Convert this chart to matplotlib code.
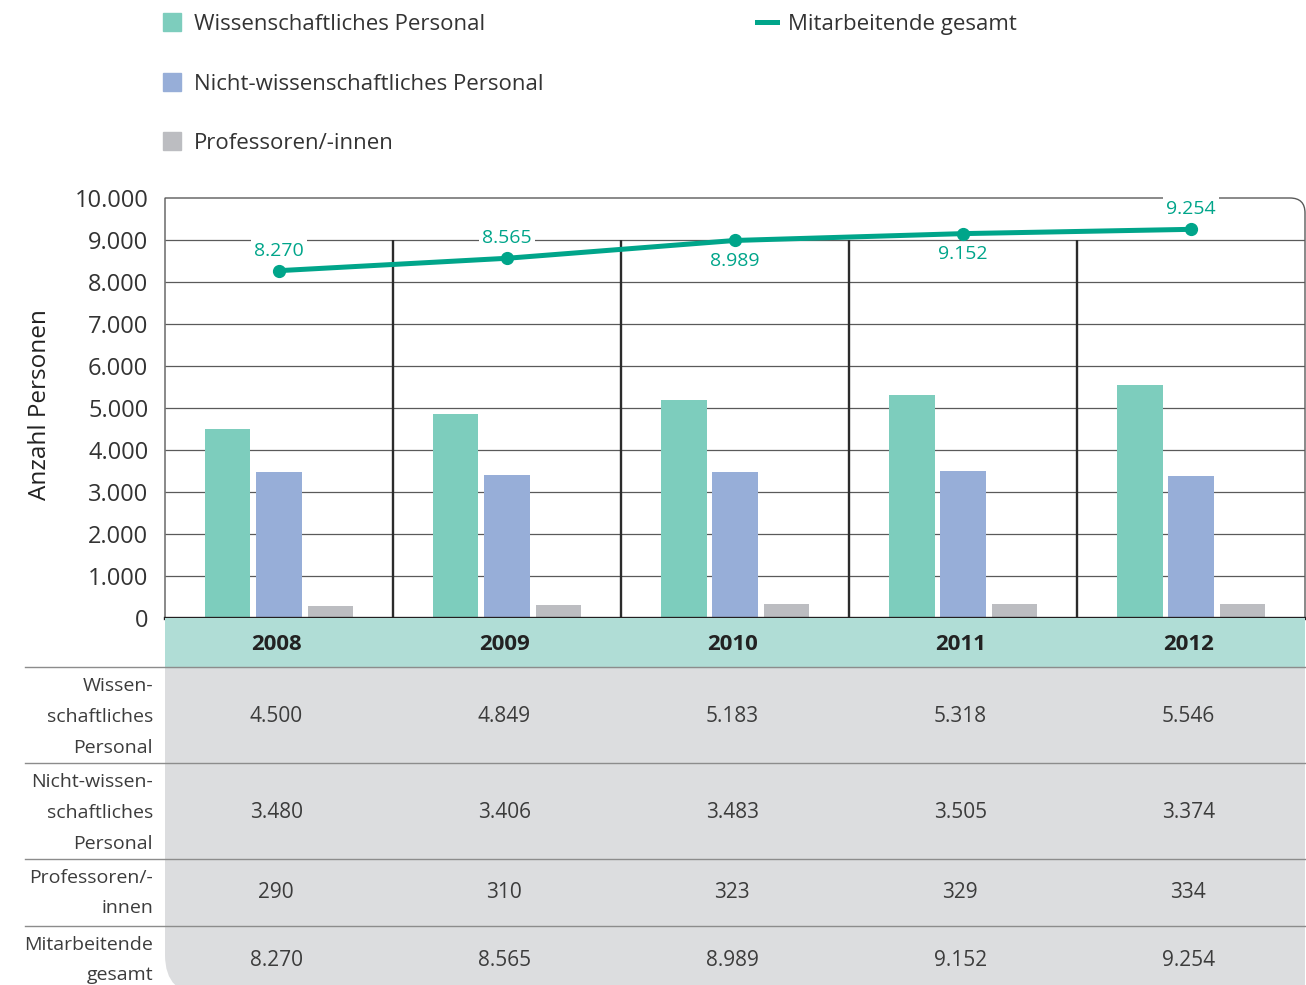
"""Personalentwicklung 2008-2012: bars + total line + data table below."""

import matplotlib.pyplot as plt
import numpy as np
from matplotlib.patches import Rectangle, FancyBboxPatch, PathPatch
from matplotlib.path import Path
from matplotlib.transforms import IdentityTransform

plt.rcParams["font.family"] = ["Open Sans", "DejaVu Sans"]

W, H = 1306, 985

years = ["2008", "2009", "2010", "2011", "2012"]
wiss = [4500, 4849, 5183, 5318, 5546]
nicht_wiss = [3480, 3406, 3483, 3505, 3374]
professoren = [290, 310, 323, 329, 334]
gesamt = [8270, 8565, 8989, 9152, 9254]

bar_names = ["Wissenschaftliches Personal", "Nicht-wissenschaftliches Personal",
             "Professoren/-innen"]
line_name = "Mitarbeitende gesamt"
row_labels = ["Wissen-\nschaftliches\nPersonal", "Nicht-wissen-\nschaftliches\nPersonal",
              "Professoren/-\ninnen", "Mitarbeitende\ngesamt"]
label_side = [1, 1, -1, -1, 1]  # value label above (1) or below (-1) the point

bar_colors = ["#7dcdbd", "#97aed8", "#bcbdc1"]
line_color = "#00a58a"
text_color = "#333333"


def fmt(v):
    return f"{v:,}".replace(",", ".")


fig = plt.figure(figsize=(W / 100, H / 100), dpi=100)

# ---- chart ----
ax = fig.add_axes([165 / W, (H - 618) / H, 1140 / W, 420 / H])
x = np.arange(len(years))
series = [wiss, nicht_wiss, professoren]
for i, (vals, col) in enumerate(zip(series, bar_colors)):
    ax.bar(x + (i - 1) * 0.225, vals, 0.2, color=col, zorder=2)

ax.set_xlim(-0.5, len(years) - 0.5)
ax.set_ylim(0, 10000)
yticks = np.arange(0, 10001, 1000)
ax.set_yticks(yticks)
ax.set_yticklabels([fmt(t) for t in yticks])
ax.set_xticks([])
ax.tick_params(axis="y", length=0, pad=12, labelsize=17, labelcolor=text_color)
for s in ax.spines.values():
    s.set_visible(False)

ax.hlines(yticks[1:-1], -0.5, len(years) - 0.5, color="#5a5a5a", lw=0.9, zorder=1)
ax.vlines(x[:-1] + 0.5, 0, 9000, color="#2b2b2b", lw=1.7, zorder=1)
ax.axhline(0, color="#231f20", lw=2.4, zorder=4, clip_on=False)

# frame with rounded top-right corner
rx, ry = 15 / 1140, 15 / 420
frame = Path([(0, 0), (0, 1), (1 - rx, 1), (1, 1), (1, 1 - ry), (1, 0)],
             [Path.MOVETO, Path.LINETO, Path.LINETO, Path.CURVE3, Path.CURVE3, Path.LINETO])
ax.add_patch(PathPatch(frame, transform=ax.transAxes, fill=False,
                       edgecolor="#5a5a5a", lw=1.0, clip_on=False, zorder=1))

ax.plot(x, gesamt, color=line_color, lw=3.6, marker="o", ms=8.5, zorder=5, clip_on=False)
for xi, v, side in zip(x, gesamt, label_side):
    ax.annotate(fmt(v), (xi, v), xytext=(0, 14.5 * side), textcoords="offset points",
                ha="center", va="center", fontsize=14, color=line_color, zorder=6,
                bbox=dict(boxstyle="square,pad=0.15", fc="white", ec="none"))

fig.text(40 / W, 1 - 405 / H, "Anzahl Personen", rotation=90, ha="center", va="center",
         fontsize=17.5, color="#222222")

# ---- legend ----
for i, (name, col) in enumerate(zip(bar_names, bar_colors)):
    yc = [22, 82, 141][i]
    fig.patches.append(Rectangle((163 / W, 1 - (yc + 9) / H), 18 / W, 18 / H,
                                 color=col, transform=fig.transFigure, figure=fig))
    fig.text(194 / W, 1 - (yc + 2.5) / H, name, ha="left", va="center", fontsize=16,
             color=text_color)
fig.lines.append(plt.Line2D([757 / W, 777 / W], [1 - 22 / H, 1 - 22 / H], color=line_color,
                            lw=3.6, transform=fig.transFigure, figure=fig))
fig.text(788 / W, 1 - 24.5 / H, line_name, ha="left", va="center", fontsize=16,
         color=text_color)

# ---- table ----
axt = fig.add_axes([165 / W, 0, 1140 / W, 367 / H])
axt.set_xlim(-0.5, len(years) - 0.5)
axt.set_ylim(367, 0)
axt.axis("off")

axt.add_patch(FancyBboxPatch((165, H - 995), 1200, 500,
                             boxstyle="round,pad=0,rounding_size=40",
                             transform=IdentityTransform(), fc="#dcdddf", ec="none",
                             zorder=0))
axt.add_patch(Rectangle((-0.5, 0), len(years), 49, color="#b0ddd6", zorder=1))

x_left = -0.5 - 140 / 228
for yl in [49, 145, 241, 308]:
    axt.plot([x_left, len(years) - 0.5], [yl, yl], color="#8c8c8c", lw=1.0,
             clip_on=False, zorder=2)

for xi, yr in zip(x, years):
    axt.text(xi - 0.012, 27, yr, ha="center", va="center", fontsize=16, fontweight="bold",
             color="#222222", zorder=3)

rows = [wiss, nicht_wiss, professoren, gesamt]
row_y = [99, 195, 275, 342]
for label, vals, yc in zip(row_labels, rows, row_y):
    axt.text(-0.5 - 12 / 228, yc, label, ha="right", va="center", fontsize=14,
             color="#3c3c3c", linespacing=1.9, clip_on=False)
    for xi, v in zip(x, vals):
        axt.text(xi - 0.012, yc, fmt(v), ha="center", va="center", fontsize=15,
                 color="#3c3c3c", zorder=3)

fig.savefig("out.png", dpi=100)
plt.close(fig)
